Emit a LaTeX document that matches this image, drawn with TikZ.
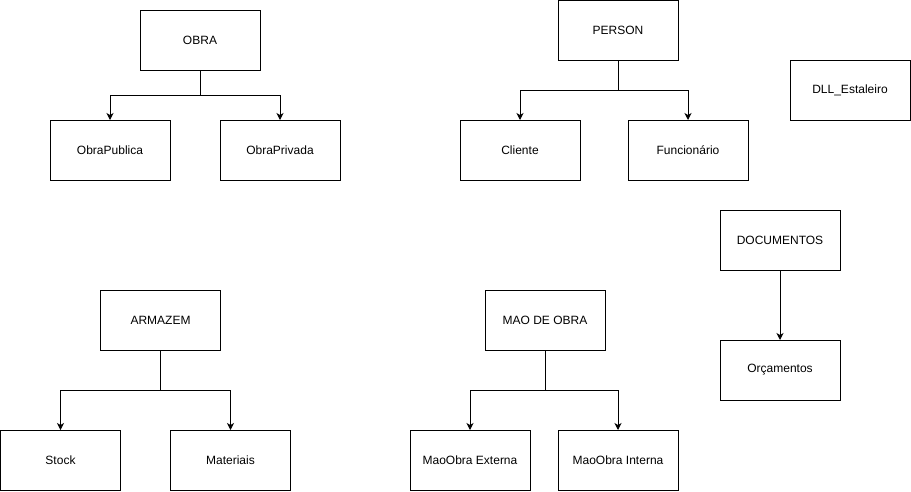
\documentclass[tikz,border=0pt]{standalone}
\usepackage{fontspec}
\setmainfont{Liberation Sans}
\usetikzlibrary{arrows.meta}
\begin{document}
\begin{tikzpicture}[x=1pt,y=-1pt,
  box/.style={draw=black,line width=1pt,fill=white,minimum width=120pt,minimum height=60pt,inner sep=0pt,outer sep=0pt,font=\fontsize{12}{14}\selectfont},
  conn/.style={draw=black,line width=1pt,-{Stealth[length=7pt,width=7pt,inset=2pt]}}]
\useasboundingbox (0,0) rectangle (911,491);
\fill[white] (0,0) rectangle (911,491);
% nodes
\node[box] (obra) at (200,40) {OBRA};
\node[box] (pub) at (110,150) {ObraPublica};
\node[box] (priv) at (280,150) {ObraPrivada};
\node[box] (person) at (618,30) {PERSON};
\node[box] (cli) at (520,150) {Cliente};
\node[box] (func) at (688,150) {Funcionário};
\node[box] (dll) at (850,90) {DLL\_Estaleiro};
\node[box] (doc) at (780,240) {DOCUMENTOS};
\node[box] (orc) at (780,370) {Orçamentos};
\node[box] (arm) at (160.5,320) {ARMAZEM};
\node[box] (stock) at (60.5,460) {Stock};
\node[box] (mat) at (230.5,460) {Materiais};
\node[box] (mao) at (545,320) {MAO DE OBRA};
\node[box] (ext) at (470,460) {MaoObra Externa};
\node[box] (int) at (618,460) {MaoObra Interna};
% connectors
\draw[conn] (obra.south) -- ++(0,25) -| (pub.north);
\draw[conn] (obra.south) -- ++(0,25) -| (priv.north);
\draw[conn] (person.south) -- ++(0,30) -| (cli.north);
\draw[conn] (person.south) -- ++(0,30) -| (func.north);
\draw[conn] (doc.south) -- (orc.north);
\draw[conn] (arm.south) -- ++(0,40) -| (stock.north);
\draw[conn] (arm.south) -- ++(0,40) -| (mat.north);
\draw[conn] (mao.south) -- ++(0,40) -| (ext.north);
\draw[conn] (mao.south) -- ++(0,40) -| (int.north);
\end{tikzpicture}
\end{document}
